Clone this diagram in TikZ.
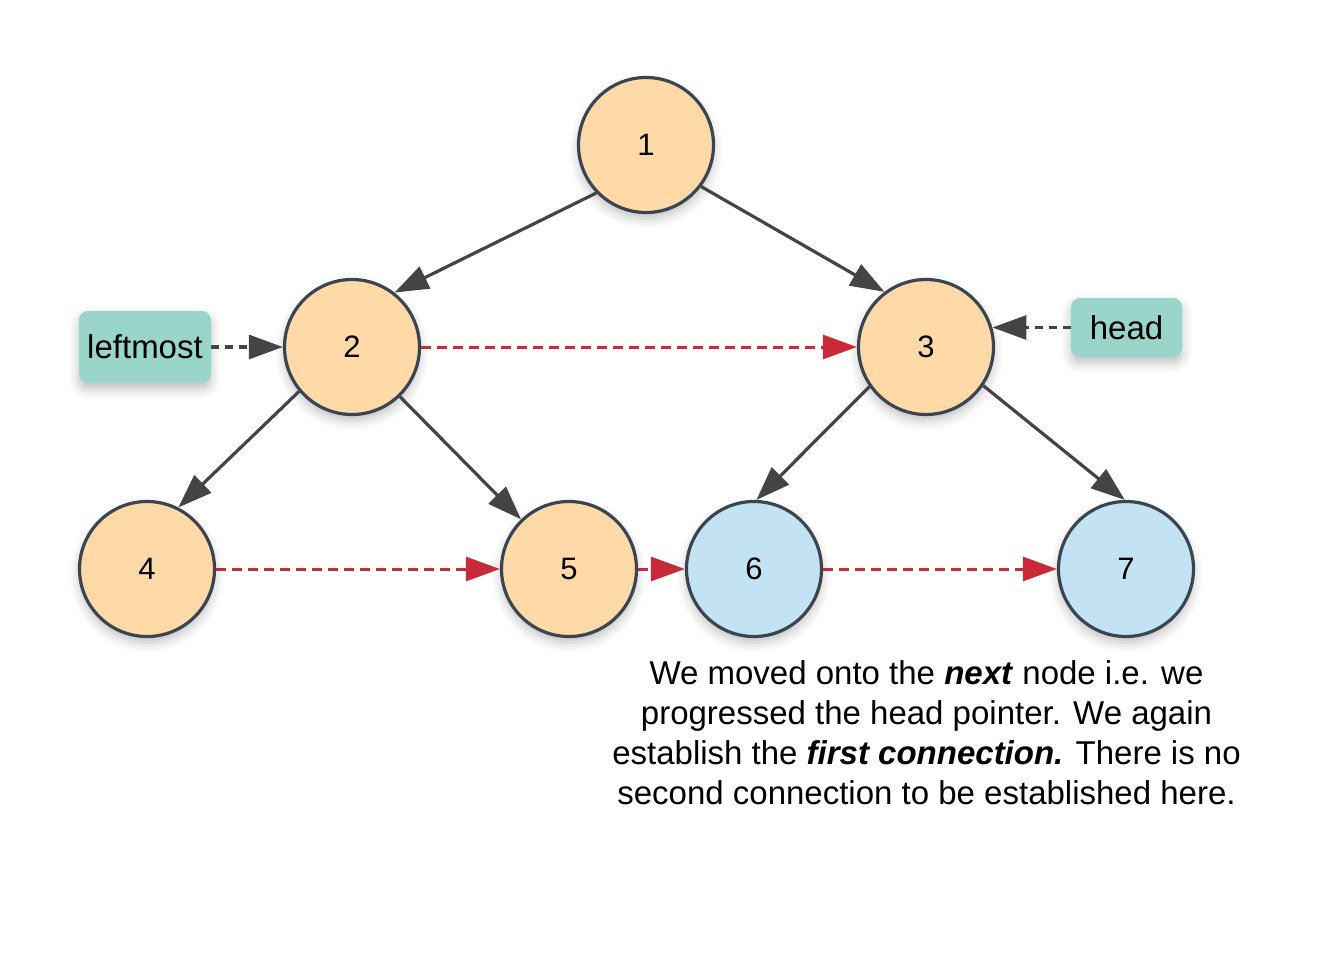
\documentclass[tikz,border=0pt]{standalone}
\usepackage{fontspec}
\setmainfont{Liberation Sans}
\usetikzlibrary{arrows.meta,shadows.blur}

\definecolor{nodeorange}{HTML}{FFDAA8}
\definecolor{nodeblue}{HTML}{C3E3F5}
\definecolor{nodeedge}{HTML}{3B4550}
\definecolor{tagteal}{HTML}{9AD5CA}
\definecolor{linkgray}{HTML}{444444}
\definecolor{linkred}{HTML}{C92A39}

\tikzset{
  softshadow/.style={blur shadow={shadow xshift=0pt, shadow yshift=-6pt,
      shadow blur radius=10pt, shadow opacity=25}},
  treenode/.style={circle, draw=nodeedge, line width=3.2pt, minimum size=135pt,
      inner sep=0pt, font=\fontsize{31}{36}\selectfont, softshadow},
  orangenode/.style={treenode, fill=nodeorange},
  bluenode/.style={treenode, fill=nodeblue},
  tag/.style={rounded corners=9pt, fill=tagteal, inner sep=0pt,
      font=\fontsize{33}{38}\selectfont, softshadow},
  tip/.style={-{Triangle[length=34pt,width=24pt]}},
  childedge/.style={tip, draw=linkgray, line width=3.2pt},
  tagedge/.style={tip, draw=linkgray, line width=3.2pt, dash pattern=on 8pt off 6pt},
  nextedge/.style={tip, draw=linkred, line width=3pt, dash pattern=on 10pt off 6pt},
}

\begin{document}
\begin{tikzpicture}[x=1pt, y=-1pt]
  \useasboundingbox (0,0) rectangle (1337,966);

  % tree nodes
  \node[orangenode] (n1) at (646,145) {1};
  \node[orangenode] (n2) at (352,347) {2};
  \node[orangenode] (n3) at (926,347) {3};
  \node[orangenode] (n4) at (147,569) {4};
  \node[orangenode] (n5) at (569,569) {5};
  \node[bluenode]   (n6) at (754,569) {6};
  \node[bluenode]   (n7) at (1126,569) {7};

  % pointer tags
  \node[tag, minimum width=132pt, minimum height=72pt] (leftmost) at (145,347) {leftmost};
  \node[tag, minimum width=111pt, minimum height=59pt] (head) at (1126.5,327.5) {head};

  % parent-child edges
  \draw[childedge] (n1.224) -- (n2.52);
  \draw[childedge] (n1.-37) -- (n3.127);
  \draw[childedge] (n2.220) -- (n4.63);
  \draw[childedge] (n2.-46) -- (n5.134);
  \draw[childedge] (n3.215) -- (n6.88);
  \draw[childedge] (n3.-34) -- (n7.91);

  % next-pointer links
  \draw[nextedge] (n2.east) -- (n3.west);
  \draw[nextedge] (n4.east) -- (n5.west);
  \draw[nextedge] (n5.east) -- (n6.west);
  \draw[nextedge] (n6.east) -- (n7.west);

  % tag pointers
  \draw[tagedge] (leftmost.east) -- (n2.west);
  \draw[tagedge] (head.west) -- (head.west -| n3.16);

  % caption
  \node[anchor=north, inner sep=0pt, align=center,
        font=\fontsize{33}{40}\selectfont] (caption) at (926.5,660)
    {We moved onto the \textbf{\textit{next}} node i.e. we\\
     progressed the head pointer. We again\\
     establish the \textbf{\textit{first connection.}} There is no\\
     second connection to be established here.};
\end{tikzpicture}
\end{document}
